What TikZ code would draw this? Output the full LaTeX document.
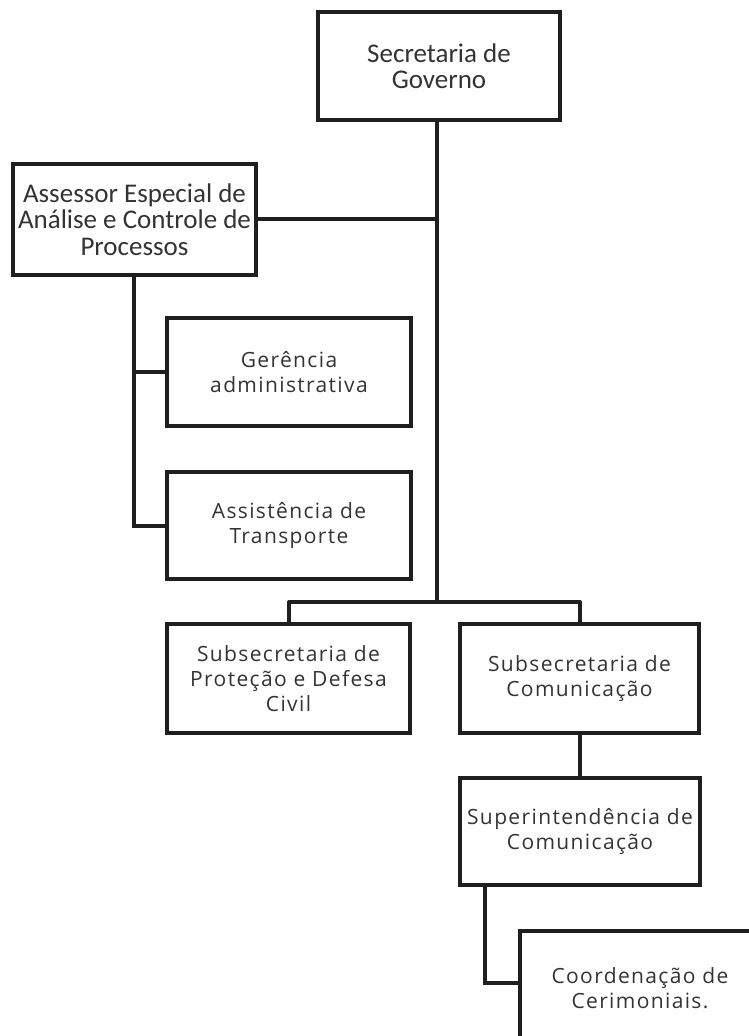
\documentclass[tikz,border=0pt]{standalone}
\usepackage{fontspec}
\setmainfont{Open Sans}[LetterSpace=6.5]
\newfontfamily\calfont{Carlito}
\begin{document}
\begin{tikzpicture}[x=1pt,y=-1pt,
  box/.style={draw=black!88, line width=3.6pt, rectangle, inner sep=0pt, align=center, text=black!80},
  wide/.style={box, font=\fontsize{21}{25}\selectfont},
  narrow/.style={box, font=\calfont\fontsize{27}{26.5}\selectfont},
  conn/.style={draw=black!88, line width=3.4pt}]
\useasboundingbox (0,0) rectangle (749,1036);
\begin{scope}
\clip (0,0) rectangle (749,1036);
\node[narrow, minimum width=242pt, minimum height=108pt] (sec) at (439,66) {Secretaria de\\Governo};
\node[narrow, minimum width=243pt, minimum height=111pt] (ass) at (134.5,219.5) {Assessor Especial de\\Análise e Controle de\\Processos};
\node[wide, minimum width=244pt, minimum height=108pt] (ger) at (289,372) {Gerência\\administrativa};
\node[wide, minimum width=244pt, minimum height=107pt] (asst) at (289,525.5) {Assistência de\\Transporte};
\node[wide, minimum width=243pt, minimum height=109pt] (prot) at (288.5,678.5) {Subsecretaria de\\Proteção e Defesa\\Civil};
\node[wide, minimum width=239pt, minimum height=109pt] (com) at (579.5,678.5) {Subsecretaria de\\Comunicação};
\node[wide, minimum width=240pt, minimum height=107pt] (sup) at (580,831.5) {Superintendência de\\Comunicação};
\node[wide, minimum width=240pt, minimum height=114pt] (coo) at (640,988) {Coordenação de\\Cerimoniais.};

\coordinate (trunk) at (437,602);
\coordinate (lA) at (289,602);
\coordinate (lB) at (580,602);
\coordinate (aDown) at (134,526);
\coordinate (sDown) at (485,983);

\draw[conn] (sec.south -| trunk) -- (trunk);
\draw[conn] (ass.east |- 0,219) -- (437,219);
\draw[conn] (ass.south -| aDown) -- (aDown) -- (asst.west |- aDown);
\draw[conn] (134,372) -- (ger.west |- 0,372);
\draw[conn, line join=round] (prot.north -| lA) -- (lA) -- (lB) -- (com.north -| lB);
\draw[conn] (com.south -| 580,0) -- (sup.north -| 580,0);
\draw[conn] (sup.south -| sDown) -- (sDown) -- (coo.west |- sDown);
\end{scope}
\end{tikzpicture}
\end{document}
